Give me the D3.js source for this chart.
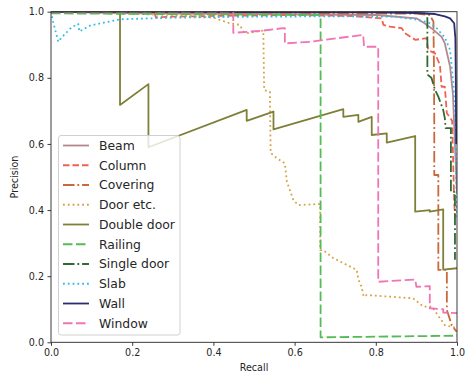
<!DOCTYPE html>
<html>
<head>
<meta charset="utf-8">
<script src="https://cdn.jsdelivr.net/npm/d3@7"></script>
<style>
  html, body { margin: 0; padding: 0; background: #fff; }
  svg { display: block; font-family: "DejaVu Sans", sans-serif; }
</style>
</head>
<body>
<svg id="chart" width="465" height="374"></svg>
<script>
// ---- data (recall, precision pairs) ----
const seriesNames = ["Beam", "Column", "Covering", "Door etc.", "Double door", "Railing", "Single door", "Slab", "Wall", "Window"];
const xTicks = [0.0, 0.2, 0.4, 0.6, 0.8, 1.0];
const yTicks = [0.0, 0.2, 0.4, 0.6, 0.8, 1.0];

const beam = [[0,1],[0.2,0.995],[0.5,0.993],[0.8,0.99],[0.9,0.98],[0.92,0.965],[0.942,0.945],[0.962,0.924],[0.97,0.904],[0.983,0.834],[0.99,0.75],[0.995,0.6],[1.0,0.45]];
const column = [[0.255,0.996],[0.258,0.983],[0.3,0.985],[0.449,0.988],[0.45,0.996],[0.452,0.988],[0.6,0.99],[0.744,0.987],[0.814,0.98],[0.819,0.96],[0.835,0.955],[0.864,0.95],[0.872,0.935],[0.897,0.915],[0.925,0.92],[0.929,0.884],[0.946,0.874],[0.958,0.839],[0.962,0.773],[0.97,0.773],[0.975,0.693],[0.988,0.67],[0.993,0.43],[0.995,0.38]];
const covering = [[0,1],[0.5,0.997],[0.9,0.994],[0.933,0.99],[0.942,0.97],[0.943,0.854],[0.944,0.667],[0.944,0.506],[0.954,0.506],[0.954,0.219],[0.975,0.219],[0.975,0.098],[0.987,0.052],[0.999,0.032]];
const doorEtc = [[0,1],[0.3,0.99],[0.4,0.982],[0.416,0.975],[0.441,0.965],[0.465,0.96],[0.474,0.94],[0.481,0.935],[0.523,0.943],[0.525,0.763],[0.539,0.758],[0.541,0.573],[0.552,0.561],[0.576,0.541],[0.581,0.486],[0.597,0.43],[0.609,0.415],[0.654,0.418],[0.663,0.418],[0.663,0.279],[0.67,0.279],[0.695,0.255],[0.753,0.219],[0.757,0.19],[0.765,0.168],[0.77,0.138],[0.778,0.143],[0.892,0.133],[0.917,0.108],[0.938,0.108],[0.97,0.052],[0.999,0.043]];
const doubleDoor = [[0,1],[0.17,1],[0.17,0.718],[0.24,0.781],[0.24,0.59],[0.482,0.703],[0.482,0.67],[0.548,0.698],[0.548,0.644],[0.72,0.705],[0.72,0.682],[0.757,0.688],[0.757,0.667],[0.79,0.682],[0.79,0.627],[0.827,0.632],[0.827,0.604],[0.897,0.624],[0.897,0.395],[0.933,0.40],[0.933,0.395],[0.966,0.402],[0.966,0.22],[1.0,0.224]];
const railing = [[0,0.995],[0.664,0.99],[0.664,0.015],[1.0,0.02]];
const singleDoor = [[0,1],[0.927,1.0],[0.927,0.81],[0.937,0.80],[0.946,0.763],[0.954,0.743],[0.966,0.703],[0.97,0.678],[0.972,0.648],[0.985,0.648],[0.985,0.455],[0.995,0.455],[0.995,0.25]];
const slab = [[0,1],[0.005,0.97],[0.018,0.909],[0.026,0.922],[0.051,0.953],[0.067,0.963],[0.07,0.94],[0.096,0.958],[0.17,0.977],[0.3,0.982],[0.5,0.985],[0.7,0.986],[0.847,0.985],[0.9,0.976],[0.929,0.968],[0.95,0.95],[0.97,0.922],[0.983,0.884],[0.991,0.783],[0.995,0.703],[0.997,0.55],[1.0,0.38]];
const wall = [[0,1],[0.5,0.999],[0.8,0.998],[0.9,0.996],[0.946,0.993],[0.97,0.986],[0.983,0.98],[0.993,0.965],[0.996,0.92],[0.997,0.8],[0.998,0.6]];
const windowS = [[0,1],[0.449,1.0],[0.449,0.936],[0.523,0.943],[0.572,0.95],[0.576,0.95],[0.576,0.904],[0.638,0.909],[0.769,0.93],[0.771,0.894],[0.806,0.894],[0.806,0.183],[0.897,0.19],[0.90,0.168],[0.933,0.17],[0.933,0.103],[0.966,0.10],[0.966,0.09],[1.0,0.088]];

const seriesData = [beam, column, covering, doorEtc, doubleDoor, railing, singleDoor, slab, wall, windowS];
const seriesColors = ["#b4888e", "#f0614f", "#c9693a", "#d9a042", "#7f7f3a", "#55bb55", "#2f6a33", "#33bbee", "#2b2d70", "#f075b5"];
const seriesDash = ["none", "6.5,3", "11.5,2.9,1.8,2.9", "1.8,3", "none", "9.5,3.5", "11.5,2.9,1.8,2.9", "1.8,3", "none", "9.5,3.5"];

// ---- layout ----
const svg = d3.select("#chart");
const L = 51, R = 457, T = 11.7, B = 342.3;
const x = d3.scaleLinear().domain([0, 1]).range([L, R]);
const y = d3.scaleLinear().domain([0, 1]).range([B, T]);
const textColor = "#262626";

svg.append("defs").append("clipPath").attr("id", "clip")
  .append("rect").attr("x", L).attr("y", T).attr("width", R - L).attr("height", B - T);

const line = d3.line().x(d => x(d[0])).y(d => y(d[1]));
const g = svg.append("g").attr("clip-path", "url(#clip)");
seriesData.forEach((d, i) => {
  g.append("path").datum(d)
    .attr("d", line)
    .attr("fill", "none")
    .attr("stroke", seriesColors[i])
    .attr("stroke-width", 1.8)
    .attr("stroke-dasharray", seriesDash[i])
    .attr("stroke-linejoin", "round")
    .attr("stroke-linecap", "butt");
});

// ---- axes ----
const xAxis = d3.axisBottom(x).tickValues(xTicks).tickFormat(d3.format(".1f")).tickSize(3.5).tickPadding(3.5);
const yAxis = d3.axisLeft(y).tickValues(yTicks).tickFormat(d3.format(".1f")).tickSize(3.5).tickPadding(3.5);
const gx = svg.append("g").attr("transform", `translate(0,${B})`).call(xAxis);
const gy = svg.append("g").attr("transform", `translate(${L},0)`).call(yAxis);
[gx, gy].forEach(a => {
  a.select(".domain").remove();
  a.selectAll("line").attr("stroke", textColor).attr("stroke-width", 0.9);
  a.selectAll("text").attr("fill", textColor).style("font-size", "9.6px").style("font-family", "DejaVu Sans");
});
// frame
svg.append("rect").attr("x", L).attr("y", T).attr("width", R - L).attr("height", B - T)
  .attr("fill", "none").attr("stroke", textColor).attr("stroke-width", 0.9);

svg.append("text").attr("x", (L + R) / 2).attr("y", 371).attr("text-anchor", "middle")
  .attr("fill", textColor).style("font-size", "9.6px").text("Recall");
svg.append("text").attr("transform", `translate(18,${(T + B) / 2}) rotate(-90)`).attr("text-anchor", "middle")
  .attr("fill", textColor).style("font-size", "9.6px").text("Precision");

// ---- legend ----
const lg = svg.append("g");
lg.append("rect").attr("x", 58.5).attr("y", 135.5).attr("width", 121.5).attr("height", 199.5)
  .attr("rx", 2.5).attr("fill", "#fff").attr("fill-opacity", 0.8)
  .attr("stroke", "#cccccc").attr("stroke-width", 0.9);
seriesNames.forEach((n, i) => {
  const cy = 145.5 + i * 19.75;
  lg.append("line").attr("x1", 63).attr("x2", 89).attr("y1", cy).attr("y2", cy)
    .attr("stroke", seriesColors[i]).attr("stroke-width", 1.8)
    .attr("stroke-dasharray", seriesDash[i]);
  lg.append("text").attr("x", 99).attr("y", cy).attr("dy", "0.36em")
    .attr("fill", textColor).style("font-size", "12.4px").text(n);
});
</script>
</body>
</html>
